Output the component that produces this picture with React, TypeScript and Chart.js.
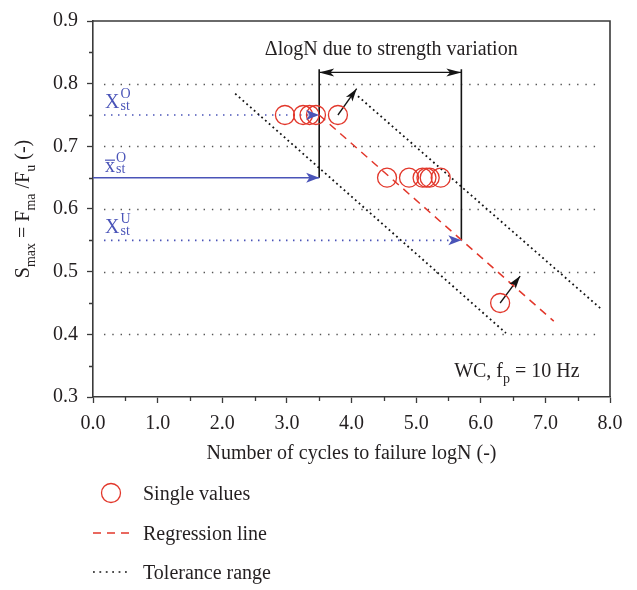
import React, { useEffect, useRef } from 'react';
import { Chart, registerables } from 'chart.js';

Chart.register(...registerables);

// ---------- data ----------
const singleLogN = [2.97, 3.25, 3.35, 3.45, 3.79, 4.55, 4.89, 5.1, 5.16, 5.21, 5.38, 6.3];
const singleS = [0.75, 0.75, 0.75, 0.75, 0.75, 0.65, 0.65, 0.65, 0.65, 0.65, 0.65, 0.45];

const regressionLogN = [3.5, 7.13];
const regressionS = [0.75, 0.421];

const toleranceLowerLogN = [2.2, 6.39];
const toleranceLowerS = [0.784, 0.402];
const toleranceUpperLogN = [4.1, 7.88];
const toleranceUpperS = [0.78, 0.439];

// strength levels X_st^O, mean, X_st^U
const refStartLogN = [0.17, 0.0, 0.17];
const refEndLogN = [3.5, 3.5, 5.7];
const refS = [0.75, 0.65, 0.55];
const refDashed = [true, false, true];

// delta logN bracket
const deltaLogN = [3.5, 5.7];
const deltaBottomS = [0.65, 0.55];
const deltaTopS = 0.823;
const deltaArrowS = 0.818;

// shift arrows
const shiftFromLogN = [3.79, 6.3];
const shiftFromS = [0.75, 0.45];
const shiftToLogN = [4.08, 6.61];
const shiftToS = [0.792, 0.493];

const gridLevels = [0.4, 0.5, 0.6, 0.7, 0.8];
const gridFromLogN = 0.17;
const gridToLogN = 7.86;

const xMin = 0, xMax = 8, xStep = 0.5;
const yMin = 0.3, yMax = 0.9, yStep = 0.05;

const legendLabels = ['Single values', 'Regression line', 'Tolerance range'];
const xTitle = 'Number of cycles to failure logN (-)';
const deltaLabel = '\u0394logN due to strength variation';

// ---------- style ----------
const FONT = '"Liberation Serif", "Times New Roman", serif';
const RED = '#e2372b';
const BLUE = '#4a54b8';
const BLACK = '#141414';
const AXIS = '#3a3a3a';
const TEXT = '#231f20';

type Part = { t: string; sub?: boolean; sup?: boolean };

function drawRich(ctx: CanvasRenderingContext2D, parts: Part[], x: number, y: number, size: number, align: 'left' | 'center' | 'right', color: string) {
  const small = Math.round(size * 0.7);
  let total = 0;
  const widths = parts.map((p) => {
    ctx.font = `${p.sub || p.sup ? small : size}px ${FONT}`;
    const w = ctx.measureText(p.t).width;
    total += w;
    return w;
  });
  let cx = align === 'left' ? x : align === 'center' ? x - total / 2 : x - total;
  ctx.fillStyle = color;
  ctx.textBaseline = 'alphabetic';
  ctx.textAlign = 'left';
  parts.forEach((p, i) => {
    ctx.font = `${p.sub || p.sup ? small : size}px ${FONT}`;
    const dy = p.sub ? size * 0.28 : p.sup ? -size * 0.4 : 0;
    ctx.fillText(p.t, cx, y + dy);
    cx += widths[i];
  });
}

function arrowHead(ctx: CanvasRenderingContext2D, fx: number, fy: number, tx: number, ty: number, len: number, wid: number, color: string, notch = 0.25) {
  const a = Math.atan2(ty - fy, tx - fx);
  const cos = Math.cos(a), sin = Math.sin(a);
  const bx = tx - cos * len, by = ty - sin * len;
  const nx = tx - cos * len * (1 - notch), ny = ty - sin * len * (1 - notch);
  ctx.save();
  ctx.fillStyle = color;
  ctx.beginPath();
  ctx.moveTo(tx, ty);
  ctx.lineTo(bx - sin * wid / 2, by + cos * wid / 2);
  ctx.lineTo(nx, ny);
  ctx.lineTo(bx + sin * wid / 2, by - cos * wid / 2);
  ctx.closePath();
  ctx.fill();
  ctx.restore();
}

const isMajorX = (v: number) => Math.abs(v - Math.round(v)) < 1e-6;
const isMajorY = (v: number) => Math.abs(v * 10 - Math.round(v * 10)) < 1e-6;

const decorPlugin = {
  id: 'decor',
  beforeDatasetsDraw(chart: any) {
    const { ctx, chartArea, scales } = chart;
    const xs = scales.x, ys = scales.y;
    ctx.save();
    // dotted horizontal grid
    ctx.strokeStyle = '#555';
    ctx.lineWidth = 1.6;
    ctx.setLineDash([1.4, 6.9]);
    gridLevels.forEach((v) => {
      const py = Math.round(ys.getPixelForValue(v)) + 0.5;
      ctx.beginPath();
      ctx.moveTo(xs.getPixelForValue(gridFromLogN), py);
      ctx.lineTo(xs.getPixelForValue(gridToLogN), py);
      ctx.stroke();
    });
    ctx.setLineDash([]);
    // top and right frame
    ctx.strokeStyle = AXIS;
    ctx.lineWidth = 1.6;
    ctx.beginPath();
    ctx.moveTo(chartArea.left, chartArea.top);
    ctx.lineTo(chartArea.right, chartArea.top);
    ctx.lineTo(chartArea.right, chartArea.bottom);
    ctx.stroke();
    // minor ticks (shorter)
    ctx.lineWidth = 1.3;
    ctx.beginPath();
    xs.ticks.forEach((t: any) => {
      if (isMajorX(t.value)) return;
      const px = Math.round(xs.getPixelForValue(t.value)) + 0.5;
      ctx.moveTo(px, chartArea.bottom);
      ctx.lineTo(px, chartArea.bottom + 4);
    });
    ys.ticks.forEach((t: any) => {
      if (isMajorY(t.value)) return;
      const py = Math.round(ys.getPixelForValue(t.value)) + 0.5;
      ctx.moveTo(chartArea.left, py);
      ctx.lineTo(chartArea.left - 4, py);
    });
    ctx.stroke();
    ctx.restore();
  },
  afterDatasetsDraw(chart: any) {
    const { ctx, scales, chartArea } = chart;
    const xs = scales.x, ys = scales.y;
    ctx.save();
    chart.data.datasets.forEach((ds: any, i: number) => {
      if (!ds.arrow) return;
      const pts = chart.getDatasetMeta(i).data;
      const a = pts[0], b = pts[pts.length - 1];
      arrowHead(ctx, a.x, a.y, b.x, b.y, ds.arrowLen, ds.arrowWid, ds.borderColor);
      if (ds.arrow === 'both') arrowHead(ctx, b.x, b.y, a.x, a.y, ds.arrowLen, ds.arrowWid, ds.borderColor);
    });

    // delta label
    drawRich(ctx, [{ t: deltaLabel }], (xs.getPixelForValue(deltaLogN[0]) + xs.getPixelForValue(deltaLogN[1])) / 2 + 1, ys.getPixelForValue(0.845), 20, 'center', TEXT);

    // WC label
    drawRich(ctx, [{ t: 'WC, f' }, { t: 'p', sub: true }, { t: ' = 10 Hz' }], xs.getPixelForValue(7.53), ys.getPixelForValue(0.332), 20, 'right', TEXT);

    // blue labels
    const lx = chartArea.left + 12;
    const stack = (baseY: number, main: string, sup: string, bar: boolean) => {
      ctx.font = `20px ${FONT}`;
      ctx.fillStyle = BLUE;
      ctx.textAlign = 'left';
      ctx.textBaseline = 'alphabetic';
      ctx.fillText(main, lx, baseY);
      const w = ctx.measureText(main).width;
      if (bar) {
        ctx.strokeStyle = BLUE;
        ctx.lineWidth = 1.2;
        ctx.beginPath();
        ctx.moveTo(lx, baseY - 11.5);
        ctx.lineTo(lx + w, baseY - 11.5);
        ctx.stroke();
      }
      ctx.font = `14px ${FONT}`;
      ctx.fillText(sup, lx + w + 1, baseY - 10);
      ctx.fillText('st', lx + w + 1, baseY + 1.5);
    };
    stack(ys.getPixelForValue(0.75) - 7, 'X', 'O', false);
    stack(ys.getPixelForValue(0.65) - 6, 'x', 'O', true);
    stack(ys.getPixelForValue(0.55) - 7, 'X', 'U', false);
    ctx.restore();
  },
  afterDraw(chart: any) {
    const { ctx, chartArea } = chart;
    ctx.save();
    // x title
    drawRich(ctx, [{ t: xTitle }], (chartArea.left + chartArea.right) / 2, 459, 20, 'center', TEXT);
    // y title (rotated)
    ctx.translate(29, (chartArea.top + chartArea.bottom) / 2);
    ctx.rotate(-Math.PI / 2);
    drawRich(ctx, [{ t: 'S' }, { t: 'max', sub: true }, { t: ' = F' }, { t: 'ma', sub: true }, { t: ' /F' }, { t: 'u', sub: true }, { t: ' (-)' }], 0, 0, 20, 'center', TEXT);
    ctx.restore();

    // legend
    ctx.save();
    const lx = 93, tx = 143;
    const rows = [493, 533, 572];
    ctx.strokeStyle = RED;
    ctx.lineWidth = 1.3;
    ctx.beginPath();
    ctx.arc(111, rows[0], 9.5, 0, Math.PI * 2);
    ctx.stroke();
    ctx.setLineDash([8, 6]);
    ctx.lineWidth = 1.5;
    ctx.beginPath();
    ctx.moveTo(lx, rows[1]);
    ctx.lineTo(lx + 36, rows[1]);
    ctx.stroke();
    ctx.strokeStyle = BLACK;
    ctx.setLineDash([1.8, 4.6]);
    ctx.lineWidth = 1.7;
    ctx.beginPath();
    ctx.moveTo(lx, rows[2]);
    ctx.lineTo(lx + 36, rows[2]);
    ctx.stroke();
    ctx.setLineDash([]);
    legendLabels.forEach((l, i) => drawRich(ctx, [{ t: l }], tx, rows[i] + 7, 20, 'left', TEXT));
    ctx.restore();
  },
};

function pts(xs: number[], ys: number[]) {
  return xs.map((x, i) => ({ x, y: ys[i] }));
}

export default function App() {
  const ref = useRef<HTMLCanvasElement>(null);
  useEffect(() => {
    const lineDs = (data: any[], color: string, width: number, dash: number[], extra: any = {}) => ({
      data,
      showLine: true,
      borderColor: color,
      backgroundColor: color,
      borderWidth: width,
      borderDash: dash,
      pointRadius: 0,
      pointHoverRadius: 0,
      fill: false,
      ...extra,
    });
    const datasets: any[] = [];
    datasets.push({
      label: legendLabels[0],
      data: pts(singleLogN, singleS),
      showLine: false,
      pointStyle: 'circle',
      pointRadius: 9.5,
      pointBorderWidth: 1.3,
      borderColor: RED,
      pointBorderColor: RED,
      backgroundColor: 'rgba(0,0,0,0)',
      pointBackgroundColor: 'rgba(0,0,0,0)',
    });
    datasets.push(lineDs(pts(regressionLogN, regressionS), RED, 1.5, [8, 6], { label: legendLabels[1] }));
    datasets.push(lineDs(pts(toleranceLowerLogN, toleranceLowerS), BLACK, 1.8, [1.8, 3.2], { label: legendLabels[2] }));
    datasets.push(lineDs(pts(toleranceUpperLogN, toleranceUpperS), BLACK, 1.8, [1.8, 3.2], { label: legendLabels[2] }));
    refS.forEach((s, i) => {
      datasets.push(lineDs(pts([refStartLogN[i], refEndLogN[i]], [s, s]), BLUE, refDashed[i] ? 1.6 : 1.5, refDashed[i] ? [1.5, 5.5] : [], { arrow: 'end', arrowLen: 13, arrowWid: 10 }));
    });
    deltaLogN.forEach((x, i) => {
      datasets.push(lineDs(pts([x, x], [deltaBottomS[i], deltaTopS]), BLACK, 1.6, []));
    });
    datasets.push(lineDs(pts(deltaLogN, [deltaArrowS, deltaArrowS]), BLACK, 1.3, [], { arrow: 'both', arrowLen: 15, arrowWid: 8 }));
    shiftFromLogN.forEach((x, i) => {
      datasets.push(lineDs(pts([x, shiftToLogN[i]], [shiftFromS[i], shiftToS[i]]), BLACK, 1.3, [], { arrow: 'end', arrowLen: 13, arrowWid: 8 }));
    });

    const chart = new Chart(ref.current!, {
      type: 'scatter',
      data: { datasets },
      options: {
        responsive: false,
        animation: false,
        events: [],
        layout: { padding: { top: 9, right: 27, left: 0, bottom: 0 } },
        plugins: { legend: { display: false }, tooltip: { enabled: false } },
        scales: {
          x: {
            type: 'linear',
            min: xMin,
            max: xMax,
            afterFit: (s: any) => { s.height = 193; },
            border: { display: true, color: AXIS, width: 1.6 },
            grid: {
              drawOnChartArea: false,
              drawTicks: true,
              tickLength: 6,
              tickWidth: 1.3,
              tickColor: (c: any) => (c.tick && isMajorX(c.tick.value) ? AXIS : 'rgba(0,0,0,0)'),
            },
            ticks: {
              stepSize: xStep,
              autoSkip: false,
              maxRotation: 0,
              padding: 9,
              color: TEXT,
              font: { family: FONT, size: 20 },
              callback: (v: any) => (isMajorX(v) ? Number(v).toFixed(1) : ''),
            },
          },
          y: {
            type: 'linear',
            min: yMin,
            max: yMax,
            afterFit: (s: any) => { s.width = 93; },
            border: { display: true, color: AXIS, width: 1.6 },
            grid: {
              drawOnChartArea: false,
              drawTicks: true,
              tickLength: 6,
              tickWidth: 1.3,
              tickColor: (c: any) => (c.tick && isMajorY(c.tick.value) ? AXIS : 'rgba(0,0,0,0)'),
            },
            ticks: {
              stepSize: yStep,
              autoSkip: false,
              padding: 9,
              color: TEXT,
              font: { family: FONT, size: 20 },
              callback: (v: any) => (isMajorY(v) ? Number(v).toFixed(1) : ''),
            },
          },
        },
      },
      plugins: [decorPlugin],
    } as any);
    return () => chart.destroy();
  }, []);
  return (
    <canvas
      ref={ref}
      width={637}
      height={590}
      style={{ position: 'fixed', left: 0, top: 0, width: 637, height: 590, display: 'block', background: '#fff' }}
    />
  );
}
